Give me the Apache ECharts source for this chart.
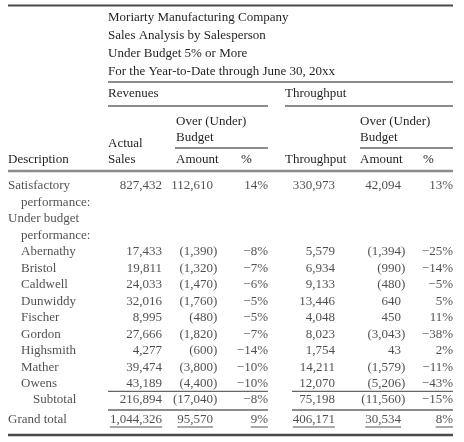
<!DOCTYPE html>
<html><head><meta charset="utf-8">
<script src="https://cdn.jsdelivr.net/npm/echarts@6/dist/echarts.min.js"></script>
<style>html,body{margin:0;padding:0;background:#fff}#c{width:464px;height:442px}</style>
</head><body><div id="c"></div>
<script>
// ---------- data ----------
const titleLines = ['Moriarty Manufacturing Company', 'Sales Analysis by Salesperson', 'Under Budget 5% or More', 'For the Year-to-Date through June 30, 20xx'];
const groupHeaders = ['Revenues', 'Throughput'];
const descriptions = ['Satisfactory', 'performance:', 'Under budget', 'performance:', 'Abernathy', 'Bristol', 'Caldwell', 'Dunwiddy', 'Fischer', 'Gordon', 'Highsmith', 'Mather', 'Owens', 'Subtotal', 'Grand total'];
const descIndent = [0, 1, 0, 1, 1, 1, 1, 1, 1, 1, 1, 1, 1, 2, 0];
const actualSales = [827432, null, null, null, 17433, 19811, 24033, 32016, 8995, 27666, 4277, 39474, 43189, 216894, 1044326];
const revOverAmt  = [112610, null, null, null, -1390, -1320, -1470, -1760, -480, -1820, -600, -3800, -4400, -17040, 95570];
const revOverPct  = [14, null, null, null, -8, -7, -6, -5, -5, -7, -14, -10, -10, -8, 9];
const throughput  = [330973, null, null, null, 5579, 6934, 9133, 13446, 4048, 8023, 1754, 14211, 12070, 75198, 406171];
const tpOverAmt   = [42094, null, null, null, -1394, -990, -480, 640, 450, -3043, 43, -1579, -5206, -11560, 30534];
const tpOverPct   = [13, null, null, null, -25, -14, -5, 5, 11, -38, 2, -11, -43, -15, 8];

// ---------- layout / style ----------
const FONT = '"Liberation Serif", "Times New Roman", serif';
const FS = 13;
const TXT = '#231f20';
const RULE = '#666';
const colRight = [162, 213, 268, 335, 401, 453];
const colKind = ['num', 'num', 'pct', 'num', 'num', 'pct'];
const indentX = [8, 21, 33];
const GRAND = descriptions.length - 1;
const grandShift = 3.5;

function fmtNum(v) {
  const s = Math.abs(v).toLocaleString('en-US');
  return v < 0 ? '(' + s + ')' : s;
}
function fmtPct(v) { return (v < 0 ? '\u2212' + Math.abs(v) : String(v)) + '%'; }

const columns = [actualSales, revOverAmt, revOverPct, throughput, tpOverAmt, tpOverPct];

const baseLabel = { show: true, position: 'inside', verticalAlign: 'middle', color: TXT, fontFamily: FONT, fontSize: FS };

const series = [];
// description column
series.push({
  type: 'scatter', symbolSize: 1, itemStyle: { color: 'rgba(0,0,0,0)' }, silent: true,
  data: descriptions.map((d, i) => ({
    value: [indentX[descIndent[i]], i],
    label: Object.assign({}, baseLabel, { align: 'left', formatter: d, offset: [0, i === GRAND ? grandShift : 0] })
  }))
});
columns.forEach((arr, c) => {
  const data = [];
  arr.forEach((v, i) => {
    if (v === null) return;
    const txt = colKind[c] === 'num' ? fmtNum(v) : fmtPct(v);
    const hang = (colKind[c] === 'num' && v < 0) ? 4.3 : 0;
    data.push({
      value: [colRight[c], i],
      label: Object.assign({}, baseLabel, { align: 'right', formatter: txt, offset: [hang, i === GRAND ? grandShift : 0] })
    });
  });
  series.push({ type: 'scatter', symbolSize: 1, itemStyle: { color: 'rgba(0,0,0,0)' }, silent: true, data });
});

function txt(x, y, s, align) {
  return { type: 'text', x, y, silent: true, style: { text: s, fill: TXT, font: FS + 'px ' + FONT, textAlign: align || 'left', textVerticalAlign: 'middle' } };
}
function rule(x1, x2, y, w, col) {
  return { type: 'line', silent: true, shape: { x1, y1: y, x2, y2: y }, style: { stroke: col || RULE, lineWidth: w || 1.3 } };
}

const graphics = [];
graphics.push(rule(8, 453, 5.5, 2.2, '#4a4a4a'));
titleLines.forEach((t, i) => graphics.push(txt(108, 18 + i * 18, t)));
graphics.push(rule(108, 453, 82));
graphics.push(txt(108, 94, groupHeaders[0]));
graphics.push(txt(285, 94, groupHeaders[1]));
graphics.push(rule(108, 268, 106));
graphics.push(rule(285, 453, 106));
graphics.push(txt(176, 122, 'Over (Under)'));
graphics.push(txt(176, 138, 'Budget'));
graphics.push(txt(360, 122, 'Over (Under)'));
graphics.push(txt(360, 138, 'Budget'));
graphics.push(rule(175, 268, 148));
graphics.push(rule(360, 453, 148));
graphics.push(txt(108, 144, 'Actual'));
graphics.push(txt(108, 160, 'Sales'));
graphics.push(txt(8, 160, 'Description'));
graphics.push(txt(176, 160, 'Amount'));
graphics.push(txt(241, 160, '%'));
graphics.push(txt(285, 160, 'Throughput'));
graphics.push(txt(360, 160, 'Amount'));
graphics.push(txt(423, 160, '%'));
graphics.push(rule(8, 453, 171, 2.5, '#8c8c8c'));

const chart = echarts.init(document.getElementById('c'), null, { renderer: 'canvas' });
chart.setOption({
  animation: false,
  backgroundColor: '#fff',
  grid: { left: 0, right: 0, top: 186, bottom: 25.5, containLabel: false },
  xAxis: { type: 'value', min: 0, max: 464, show: false },
  yAxis: { type: 'category', inverse: true, boundaryGap: false, data: descriptions, show: false },
  series,
  graphic: graphics
});

// rules tied to the table rows
const rowY = i => chart.convertToPixel({ gridIndex: 0 }, [0, i])[1];
const yOwens = (rowY(12) + rowY(13)) / 2 - 0.5;
const ySub = (rowY(13) + rowY(GRAND) + grandShift) / 2;
const extra = [
  rule(108, 268, yOwens), rule(292, 453, yOwens),
  rule(108, 268, ySub), rule(292, 453, ySub),
  rule(8, 453, rowY(GRAND) + grandShift + 15, 2.5, '#4a4a4a')
];
const ctx = document.createElement('canvas').getContext('2d');
ctx.font = FS + 'px ' + FONT;
const yU = rowY(GRAND) + grandShift + 7;
columns.forEach((arr, c) => {
  const v = arr[GRAND];
  const s = colKind[c] === 'num' ? fmtNum(v) : fmtPct(v);
  const w = ctx.measureText(s).width;
  const xr = chart.convertToPixel({ gridIndex: 0 }, [colRight[c], GRAND])[0];
  extra.push(rule(xr - w, xr, yU, 1, '#555'));
});
chart.setOption({ graphic: graphics.concat(extra) });
</script></body></html>
